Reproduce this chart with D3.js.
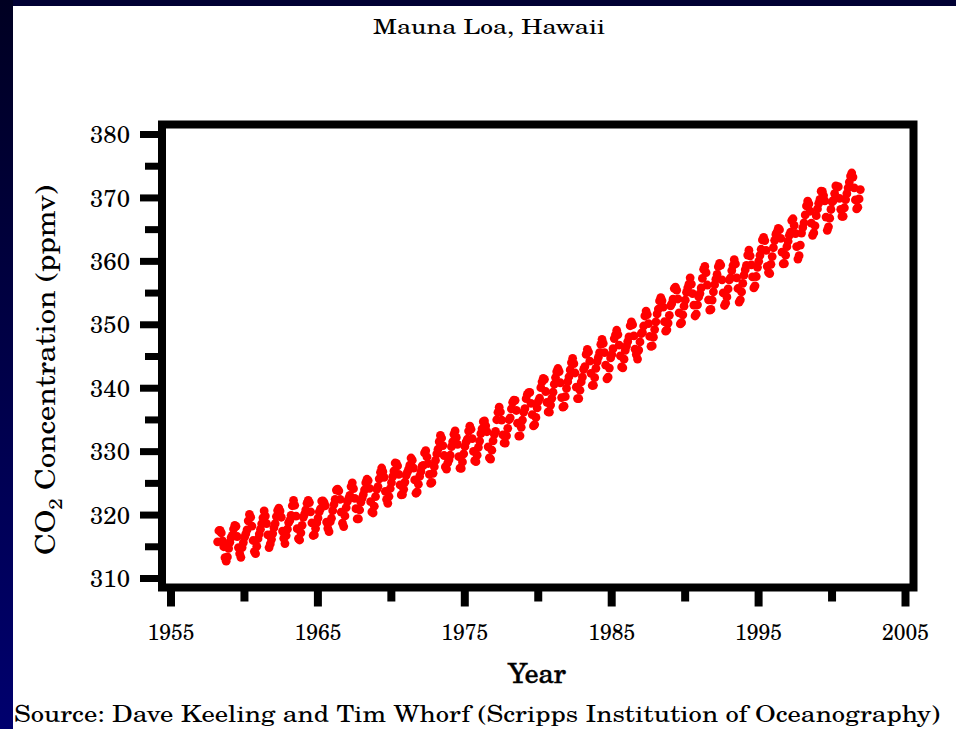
<!DOCTYPE html>
<html>
<head>
<style>
  body { margin: 0; background: #000033; }
</style>
</head>
<body>
<script src="https://d3js.org/d3.v7.min.js"></script>
<script>

const width = 956;
const height = 729;
const font = '"TeX Gyre Schola", "Century Schoolbook", "DejaVu Serif", serif';

// Mauna Loa monthly CO2 (ppmv), record starts March 1958
const firstYear = 1958;
const firstMonth = 3;
const co2 = [
  [315.71, 317.45, 317.50, 317.10, 315.86, 314.93, 313.20, 312.66, 313.33, 314.67],
  [315.62, 316.38, 316.71, 317.72, 318.29, 318.15, 316.54, 314.80, 313.84, 313.26, 314.80, 315.58],
  [316.43, 316.97, 317.58, 319.02, 320.03, 319.59, 318.18, 315.91, 314.16, 313.83, 315.00, 316.19],
  [316.93, 317.70, 318.54, 319.48, 320.58, 319.77, 318.57, 316.79, 314.80, 315.38, 316.10, 317.01],
  [317.94, 318.56, 319.68, 320.63, 321.01, 320.55, 319.58, 317.40, 316.26, 315.42, 316.69, 317.69],
  [318.74, 319.08, 319.86, 321.39, 322.25, 321.47, 319.74, 317.77, 316.21, 315.99, 317.12, 318.31],
  [319.57, 320.07, 320.73, 321.77, 322.25, 321.89, 320.44, 318.70, 316.70, 316.79, 317.79, 318.71],
  [319.44, 320.44, 320.89, 322.13, 322.16, 321.87, 321.39, 318.81, 317.81, 317.30, 318.87, 319.42],
  [320.62, 321.59, 322.39, 323.87, 324.01, 323.75, 322.39, 320.37, 318.64, 318.10, 319.79, 321.08],
  [322.07, 322.50, 323.04, 324.42, 325.00, 324.09, 322.55, 320.92, 319.31, 319.31, 320.72, 321.96],
  [322.57, 323.15, 323.89, 325.02, 325.57, 325.36, 324.14, 322.03, 320.41, 320.25, 321.31, 322.84],
  [324.00, 324.42, 325.64, 326.66, 327.34, 326.76, 325.88, 323.67, 322.38, 321.78, 322.85, 324.11],
  [325.03, 325.99, 326.87, 328.13, 328.07, 327.66, 326.35, 324.69, 323.10, 323.16, 323.98, 325.13],
  [326.17, 326.68, 327.18, 327.78, 328.92, 328.57, 327.34, 325.46, 323.36, 323.57, 324.80, 326.01],
  [326.77, 327.63, 327.75, 329.72, 330.07, 329.09, 328.05, 326.32, 324.93, 325.06, 326.50, 327.55],
  [328.54, 329.56, 330.30, 331.50, 332.48, 332.07, 330.87, 329.31, 327.51, 327.18, 328.16, 328.64],
  [329.35, 330.71, 331.48, 332.65, 333.19, 332.16, 331.07, 329.12, 327.32, 327.28, 328.30, 329.58],
  [330.73, 331.46, 331.90, 333.17, 333.94, 333.45, 331.97, 329.95, 328.50, 328.34, 329.37, 330.58],
  [331.59, 332.75, 333.52, 334.64, 334.77, 334.00, 333.06, 330.68, 328.95, 328.75, 330.15, 331.62],
  [332.66, 333.13, 334.95, 336.13, 336.93, 336.17, 334.88, 332.56, 331.29, 331.27, 332.41, 333.60],
  [334.95, 335.25, 336.66, 337.69, 338.03, 338.01, 336.41, 334.41, 332.37, 332.41, 333.75, 334.90],
  [336.14, 336.69, 338.27, 338.96, 339.21, 339.26, 337.54, 335.75, 333.98, 334.19, 335.31, 336.81],
  [337.90, 338.34, 340.01, 340.93, 341.48, 341.33, 339.40, 337.70, 336.19, 336.15, 337.27, 338.32],
  [339.29, 340.55, 341.61, 342.53, 343.03, 342.54, 340.78, 338.44, 336.95, 337.08, 338.58, 339.88],
  [340.96, 341.73, 342.81, 343.97, 344.63, 343.79, 342.32, 340.09, 338.28, 338.29, 339.60, 340.90],
  [341.68, 342.90, 343.33, 345.25, 346.03, 345.63, 344.19, 342.27, 340.35, 340.38, 341.59, 343.05],
  [344.10, 344.79, 345.52, 346.84, 347.63, 346.98, 345.53, 343.55, 341.40, 341.67, 343.10, 344.70],
  [345.21, 346.16, 347.74, 348.34, 349.06, 348.38, 346.72, 345.02, 343.27, 343.13, 344.49, 345.88],
  [346.56, 347.28, 348.01, 349.77, 350.38, 349.93, 348.16, 346.08, 345.22, 344.51, 345.93, 347.22],
  [348.52, 348.73, 349.73, 351.31, 352.09, 351.53, 350.11, 348.08, 346.52, 346.59, 347.96, 349.16],
  [350.39, 351.64, 352.40, 353.69, 354.21, 353.72, 352.69, 350.40, 348.92, 349.13, 350.20, 351.41],
  [352.91, 353.27, 353.96, 355.64, 355.86, 355.37, 353.99, 351.81, 350.05, 350.25, 351.49, 352.85],
  [353.80, 355.04, 355.73, 356.32, 357.32, 356.34, 354.84, 353.01, 351.31, 351.62, 353.07, 354.33],
  [354.84, 355.73, 357.23, 358.66, 359.13, 358.13, 356.19, 353.85, 352.25, 352.35, 353.81, 355.12],
  [356.25, 357.11, 357.86, 359.09, 359.59, 359.33, 357.01, 354.94, 352.96, 353.32, 354.32, 355.57],
  [357.00, 357.31, 358.47, 359.27, 360.19, 359.52, 357.33, 355.64, 353.50, 353.86, 355.10, 356.46],
  [357.76, 358.61, 359.30, 360.92, 361.68, 360.80, 359.38, 357.46, 355.73, 356.07, 357.53, 358.98],
  [359.92, 360.86, 361.83, 363.30, 363.69, 363.19, 361.64, 359.12, 358.17, 357.99, 359.45, 360.68],
  [362.07, 363.24, 364.17, 364.57, 365.13, 364.92, 363.55, 361.38, 359.54, 359.58, 360.89, 362.24],
  [363.09, 364.03, 364.51, 366.35, 366.64, 365.59, 364.31, 362.25, 360.29, 360.82, 362.49, 364.38],
  [365.26, 365.98, 367.24, 368.66, 369.42, 368.99, 367.82, 365.95, 364.02, 364.40, 365.52, 367.13],
  [368.18, 369.07, 369.68, 370.99, 370.96, 370.30, 369.45, 366.90, 364.81, 365.37, 366.72, 368.10],
  [369.29, 369.54, 370.60, 371.82, 371.58, 371.70, 369.86, 368.13, 367.00, 367.03, 368.37, 369.67],
  [370.59, 371.51, 372.43, 373.37, 373.85, 373.21, 371.51, 369.61, 368.18, 368.45, 369.76, 371.24]
];

const xMajor = [1955, 1965, 1975, 1985, 1995, 2005];
const xMinor = [1960, 1970, 1980, 1990, 2000];
const yMajor = [310, 320, 330, 340, 350, 360, 370, 380];
const yMinor = [315, 325, 335, 345, 355, 365, 375];

// flatten to {t, v}
const points = [];
co2.forEach((row, i) => {
  const m0 = i === 0 ? firstMonth : 1;
  row.forEach((v, j) => {
    points.push({ t: firstYear + i + (m0 + j - 0.5) / 12, v: v });
  });
});

const svg = d3.select('body')
              .append('svg')
              .attr('width', width)
              .attr('height', height);

// navy frame around the slide
const defs = svg.append('defs');
const grad = defs.append('linearGradient')
  .attr('id', 'side').attr('x1', 0).attr('y1', 0).attr('x2', 0).attr('y2', 1);
grad.append('stop').attr('offset', '0%').attr('stop-color', '#000022');
grad.append('stop').attr('offset', '100%').attr('stop-color', '#00006e');

svg.append('rect').attr('width', width).attr('height', height).attr('fill', '#000033');
svg.append('rect').attr('width', 13).attr('height', height).attr('fill', 'url(#side)');
svg.append('rect').attr('x', 13).attr('y', 6).attr('width', width - 13).attr('height', height - 6)
   .attr('fill', '#fff');

const x = d3.scaleLinear().domain([1955, 2005]).range([170.5, 905]);
const y = d3.scaleLinear().domain([310, 380]).range([578, 134]);

const frame = { left: 162, right: 913.5, top: 124.5, bottom: 587.5 };

// y axis ticks
const yAxisMajor = d3.axisLeft(y).tickValues(yMajor).tickSize(22).tickPadding(10).tickFormat(d3.format('d'));
const yAxisMinor = d3.axisLeft(y).tickValues(yMinor).tickSize(17).tickFormat('');

svg.append('g').attr('transform', `translate(${frame.left},0)`).call(yAxisMinor)
   .call(g => g.select('.domain').remove())
   .call(g => g.selectAll('line').attr('stroke-width', 7).attr('stroke', '#000'));

svg.append('g').attr('transform', `translate(${frame.left},0)`).call(yAxisMajor)
   .call(g => g.select('.domain').remove())
   .call(g => g.selectAll('line').attr('stroke-width', 7).attr('stroke', '#000'))
   .call(g => g.selectAll('text').style('font-family', font).style('font-size', '24px')
                .attr('fill', '#000').attr('dy', '0.36em'));

// x axis ticks
const xAxisMajor = d3.axisBottom(x).tickValues(xMajor).tickSize(19).tickPadding(14).tickFormat(d3.format('d'));
const xAxisMinor = d3.axisBottom(x).tickValues(xMinor).tickSize(14).tickFormat('');

svg.append('g').attr('transform', `translate(0,${frame.bottom})`).call(xAxisMinor)
   .call(g => g.select('.domain').remove())
   .call(g => g.selectAll('line').attr('stroke-width', 8).attr('stroke', '#000'));

svg.append('g').attr('transform', `translate(0,${frame.bottom})`).call(xAxisMajor)
   .call(g => g.select('.domain').remove())
   .call(g => g.selectAll('line').attr('stroke-width', 8).attr('stroke', '#000'))
   .call(g => g.selectAll('text').style('font-family', font).style('font-size', '23px')
                .attr('fill', '#000').attr('y', 52).attr('dy', 0)
                .attr('textLength', 47).attr('lengthAdjust', 'spacingAndGlyphs'));

// plot frame
svg.append('rect')
   .attr('x', frame.left).attr('y', frame.top)
   .attr('width', frame.right - frame.left).attr('height', frame.bottom - frame.top)
   .attr('fill', 'none').attr('stroke', '#000').attr('stroke-width', 8);

// data
svg.append('g').selectAll('circle')
   .data(points)
   .enter()
   .append('circle')
     .attr('cx', d => x(d.t))
     .attr('cy', d => y(d.v))
     .attr('r', 4.4)
     .attr('fill', '#ff0000');

// titles
svg.append('text')
   .attr('x', 373).attr('y', 34)
   .style('font-family', font).style('font-size', '21px')
   .attr('textLength', 232).attr('lengthAdjust', 'spacingAndGlyphs')
   .text('Mauna Loa, Hawaii');

svg.append('text')
   .attr('x', 508).attr('y', 683)
   .style('font-family', font).style('font-size', '28px')
   .attr('stroke', '#000').attr('stroke-width', 0.5)
   .attr('textLength', 58).attr('lengthAdjust', 'spacingAndGlyphs')
   .text('Year');

const ylab = svg.append('text')
   .attr('transform', 'translate(55,555) rotate(-90)')
   .style('font-family', font).style('font-size', '28px')
   .attr('textLength', 370).attr('lengthAdjust', 'spacingAndGlyphs');
ylab.append('tspan').text('CO');
ylab.append('tspan').style('font-size', '19px').attr('dy', 7).text('2');
ylab.append('tspan').attr('dy', -7).text(' Concentration (ppmv)');

svg.append('text')
   .attr('x', 14).attr('y', 722)
   .style('font-family', font).style('font-size', '23px')
   .attr('textLength', 926).attr('lengthAdjust', 'spacingAndGlyphs')
   .text('Source: Dave Keeling and Tim Whorf (Scripps Institution of Oceanography)');

</script>
</body>
</html>
